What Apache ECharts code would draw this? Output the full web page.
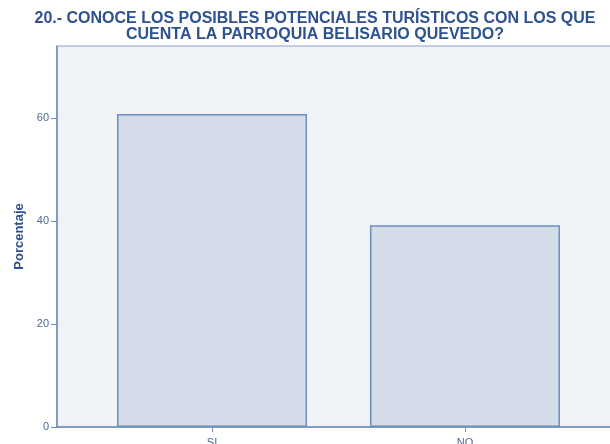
<!DOCTYPE html>
<html>
<head>
<meta charset="utf-8">
<script src="https://cdn.jsdelivr.net/npm/echarts@6/dist/echarts.min.js"></script>
<style>
html,body{margin:0;padding:0;background:#fff;}
#chart{width:610px;height:444px;}
</style>
</head>
<body>
<div id="chart"></div>
<script>
// categorias y porcentajes
var categorias = ['SI', 'NO'];
var porcentajes = [60.8, 39.2];
var yTicks = [0, 20, 40, 60];

var tituloTexto = '20.- CONOCE LOS POSIBLES POTENCIALES TURÍSTICOS CON LOS QUE\nCUENTA LA PARROQUIA BELISARIO QUEVEDO?';

var myChart = echarts.init(document.getElementById('chart'));

var datos = [];
for (var i = 0; i < porcentajes.length; i++) {
	datos.push([i, porcentajes[i]]);
}

var option = {
	animation: false,
	title: {
		text: tituloTexto,
		left: 310,
		textAlign: 'center',
		top: 6,
		textStyle: {
			fontFamily: 'Liberation Sans',
			fontSize: 16,
			fontWeight: 'bold',
			color: '#2e5190',
			lineHeight: 16
		}
	},
	grid: {
		left: 57,
		width: 563,
		top: 46,
		bottom: 17,
		outerBoundsMode: 'none',
		containLabel: false,
		show: true,
		backgroundColor: '#f0f4f8',
		borderColor: '#8aa3c8',
		borderWidth: 1
	},
	xAxis: {
		type: 'value',
		min: -0.613,
		max: 1.613,
		splitLine: {show: false},
		axisLine: {show: true, onZero: false, lineStyle: {color: '#6e8cbc', width: 1.5}},
		axisTick: {show: true, customValues: [0, 1], length: 5, lineStyle: {color: '#6e8cbc'}},
		axisLabel: {
			customValues: [0, 1],
			margin: 10,
			color: '#4a6898',
			fontFamily: 'Liberation Sans',
			fontSize: 11,
			formatter: function (v) {
				return categorias[Math.round(v)] || '';
			}
		}
	},
	yAxis: {
		type: 'value',
		min: 0,
		max: 74,
		name: 'Porcentaje',
		nameLocation: 'middle',
		nameGap: 31,
		nameTextStyle: {
			fontFamily: 'Liberation Sans',
			fontSize: 13,
			fontWeight: 'bold',
			color: '#2e5190'
		},
		splitLine: {show: false},
		axisLine: {show: true, onZero: false, lineStyle: {color: '#6e8cbc', width: 1.5}},
		axisTick: {show: true, customValues: yTicks, length: 6, lineStyle: {color: '#6e8cbc'}},
		axisLabel: {
			customValues: yTicks,
			margin: 8,
			color: '#4a6898',
			fontFamily: 'Liberation Sans',
			fontSize: 11
		}
	},
	series: [
		{
			type: 'bar',
			data: datos,
			barWidth: 190,
			itemStyle: {
				color: '#d3dce8',
				borderColor: '#6e8cbc',
				borderWidth: 1.5
			}
		}
	]
};
myChart.setOption(option);
</script>
</body>
</html>
